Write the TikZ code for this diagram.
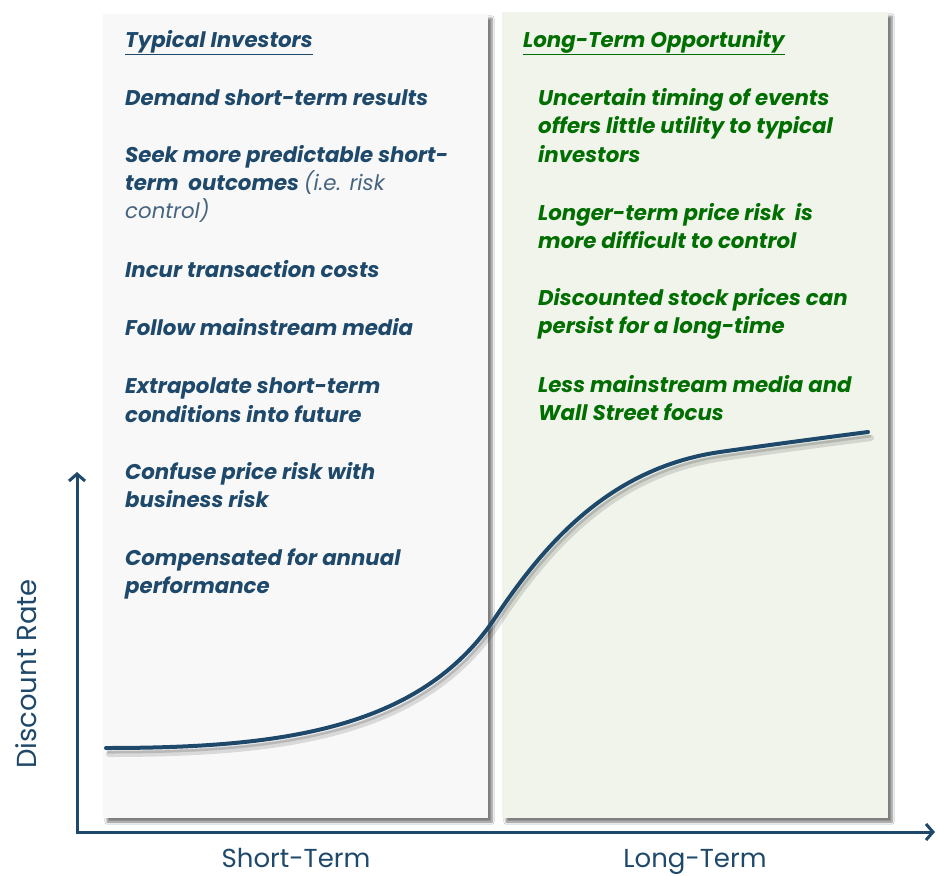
\documentclass[tikz,border=0pt]{standalone}
\usepackage{fontspec}
\setmainfont{Poppins}
\usetikzlibrary{arrows.meta,shadows.blur}
\definecolor{tb}{RGB}{31,73,107}
\definecolor{tlight}{RGB}{70,100,128}
\definecolor{tg}{RGB}{0,110,0}
\definecolor{pleft}{RGB}{248,248,248}
\definecolor{pright}{RGB}{241,244,235}
\begin{document}
\begin{tikzpicture}[x=1pt,y=-1pt,
  item/.style={anchor=base west,inner sep=0pt,font=\fontsize{21.3}{28}\selectfont\bfseries\itshape,text=tb},
  gitem/.style={item,text=tg},
  axlabel/.style={anchor=base,inner sep=0pt,font=\fontsize{26}{28}\selectfont,text=tb},
  panel/.style={draw=none,blur shadow={shadow xshift=4pt,shadow yshift=-4pt,shadow blur steps=6,shadow opacity=50}},
  axisline/.style={line width=3pt,draw=tb,line join=miter},
  curveline/.style={line width=4pt,draw=tb,line cap=round},
  barb/.tip={Straight Barb[length=7pt,width=16pt,line width=3pt]}
]
\useasboundingbox (0,0) rectangle (938,876);
\fill[white] (0,0) rectangle (938,876);
% panels
\path[panel,fill=pleft] (103,14) rectangle (488,818);
\path[panel,fill=pright] (502,12) rectangle (888,818);
% left texts
\node[item] (ltitle) at (125,47) {\underline{Typical Investors}};
\node[item] (l1) at (125,105) {Demand short-term results};
\node[item] (l2a) at (125,162) {Seek more predictable short-};
\node[item] (l2b) at (125,190) {term\ \ outcomes {\mdseries\color{tlight}(i.e. risk}};
\node[item,font=\fontsize{21.3}{28}\selectfont\mdseries\itshape,text=tlight] (l2c) at (125,218) {control)};
\node[item] (l3) at (125,277) {Incur transaction costs};
\node[item] (l4) at (125,335) {Follow mainstream media};
\node[item] (l5a) at (125,393) {Extrapolate short-term};
\node[item] (l5b) at (125,422) {conditions into future};
\node[item] (l6a) at (125,479) {Confuse price risk with};
\node[item] (l6b) at (125,507) {business risk};
\node[item] (l7a) at (125,565) {Compensated for annual};
\node[item] (l7b) at (125,593) {performance};
% right texts
\node[gitem] (rtitle) at (523,47) {\underline{Long-Term Opportunity}};
\node[gitem] (r1a) at (538,105) {Uncertain timing of events};
\node[gitem] (r1b) at (538,133) {offers little utility to typical};
\node[gitem] (r1c) at (538,162) {investors};
\node[gitem] (r2a) at (538,220) {Longer-term price risk\ \ is};
\node[gitem] (r2b) at (538,248) {more difficult to control};
\node[gitem] (r3a) at (538,305) {Discounted stock prices can};
\node[gitem] (r3b) at (538,333) {persist for a long-time};
\node[gitem] (r4a) at (538,392) {Less mainstream media and};
\node[gitem] (r4b) at (538,420) {Wall Street focus};
% curve
\def\scurve{(106,748) .. controls (280,748) and (420,730) .. (495,618) .. controls (545,543) and (610,468) .. (720,452) .. controls (790,442) and (830,437) .. (868,432)}
\draw[line width=6pt,draw=black,opacity=0.12,line cap=round,shift={(3,6)}] \scurve;
\draw[line width=3pt,draw=black,opacity=0.15,line cap=round,shift={(2,4)}] \scurve;
\draw[curveline] \scurve;
% axes
\coordinate (ytip) at (77,472);
\coordinate (orig) at (77,832);
\coordinate (xtip) at (935,832);
\draw[axisline,{barb}-{barb}] (ytip) -- (orig) -- (xtip);
% axis labels
\node[axlabel,rotate=90,font=\fontsize{27.5}{28}\selectfont] (ylab) at (36,674) {Discount Rate};
\node[axlabel] (xs) at (296,867) {Short-Term};
\node[axlabel] (xl) at (695,867) {Long-Term};
\end{tikzpicture}
\end{document}
